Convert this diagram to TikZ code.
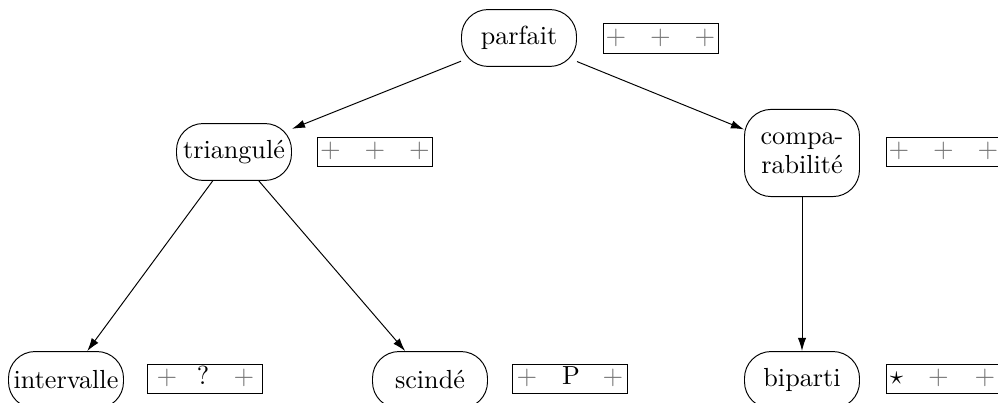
\documentclass[tikz,border=0pt]{standalone}
\usetikzlibrary{arrows.meta}
\newcommand{\gplus}{\textcolor{black!55}{$+$}}
\begin{document}
\begin{tikzpicture}[x=0.413pt,y=-0.413pt,
  txt/.style={font=\fontsize{10.8}{12}\selectfont},
  cls/.style={txt, draw, rounded corners=11pt, minimum width=47.5pt, minimum height=23.5pt, inner xsep=0.5pt, inner ysep=2pt, align=center},
  prop/.style={draw, minimum width=47.5pt, minimum height=12pt, inner sep=0pt},
  itm/.style={txt, inner sep=0pt, anchor=base},
  arr/.style={-{Latex[length=5.4pt,width=3.4pt]}}]
\useasboundingbox (0,0) rectangle (998,403);
% class nodes
\node[cls] (parfait) at (519,38) {parfait};
\node[cls] (triang) at (234,152) {triangulé};
\node[cls, minimum height=36pt] (compa) at (802,153) {compa-\\rabilité};
\node[cls] (interv) at (66,380) {intervalle};
\node[cls] (scinde) at (430,380) {scindé};
\node[cls] (bip) at (802,380) {biparti};
% property boxes
\node[prop] (pparfait) at (660.5,38.5) {};
\node[itm] (pparfait1) at (616,44.5) {\gplus};
\node[itm] (pparfait2) at (660.5,44.5) {\gplus};
\node[itm] (pparfait3) at (705,44.5) {\gplus};
\node[prop] (ptriang) at (375,152) {};
\node[itm] (ptriang1) at (330.5,158) {\gplus};
\node[itm] (ptriang2) at (375,158) {\gplus};
\node[itm] (ptriang3) at (419.5,158) {\gplus};
\node[prop] (pcompa) at (943.5,152) {};
\node[itm] (pcompa1) at (899,158) {\gplus};
\node[itm] (pcompa2) at (943.5,158) {\gplus};
\node[itm] (pcompa3) at (988,158) {\gplus};
\node[prop] (pinterv) at (205,379) {};
\node[itm] (pinterv1) at (167,385) {\gplus};
\node[itm] (pinterv2) at (203,385) {?};
\node[itm] (pinterv3) at (244,385) {\gplus};
\node[prop] (pscinde) at (569.5,379) {};
\node[itm] (pscinde1) at (527,385) {\gplus};
\node[itm] (pscinde2) at (571,385) {P};
\node[itm] (pscinde3) at (613,385) {\gplus};
\node[prop] (pbip) at (943.5,379) {};
\node[itm] (pbip1) at (896.5,385) {$\star$};
\node[itm] (pbip2) at (938.5,385) {\gplus};
\node[itm] (pbip3) at (985,385) {\gplus};
% connectors
\draw[arr] (parfait) -- (triang);
\draw[arr] (parfait) -- (compa);
\draw[arr] (triang) -- (interv);
\draw[arr] (triang) -- (scinde);
\draw[arr] (compa) -- (bip);
\end{tikzpicture}
\end{document}
